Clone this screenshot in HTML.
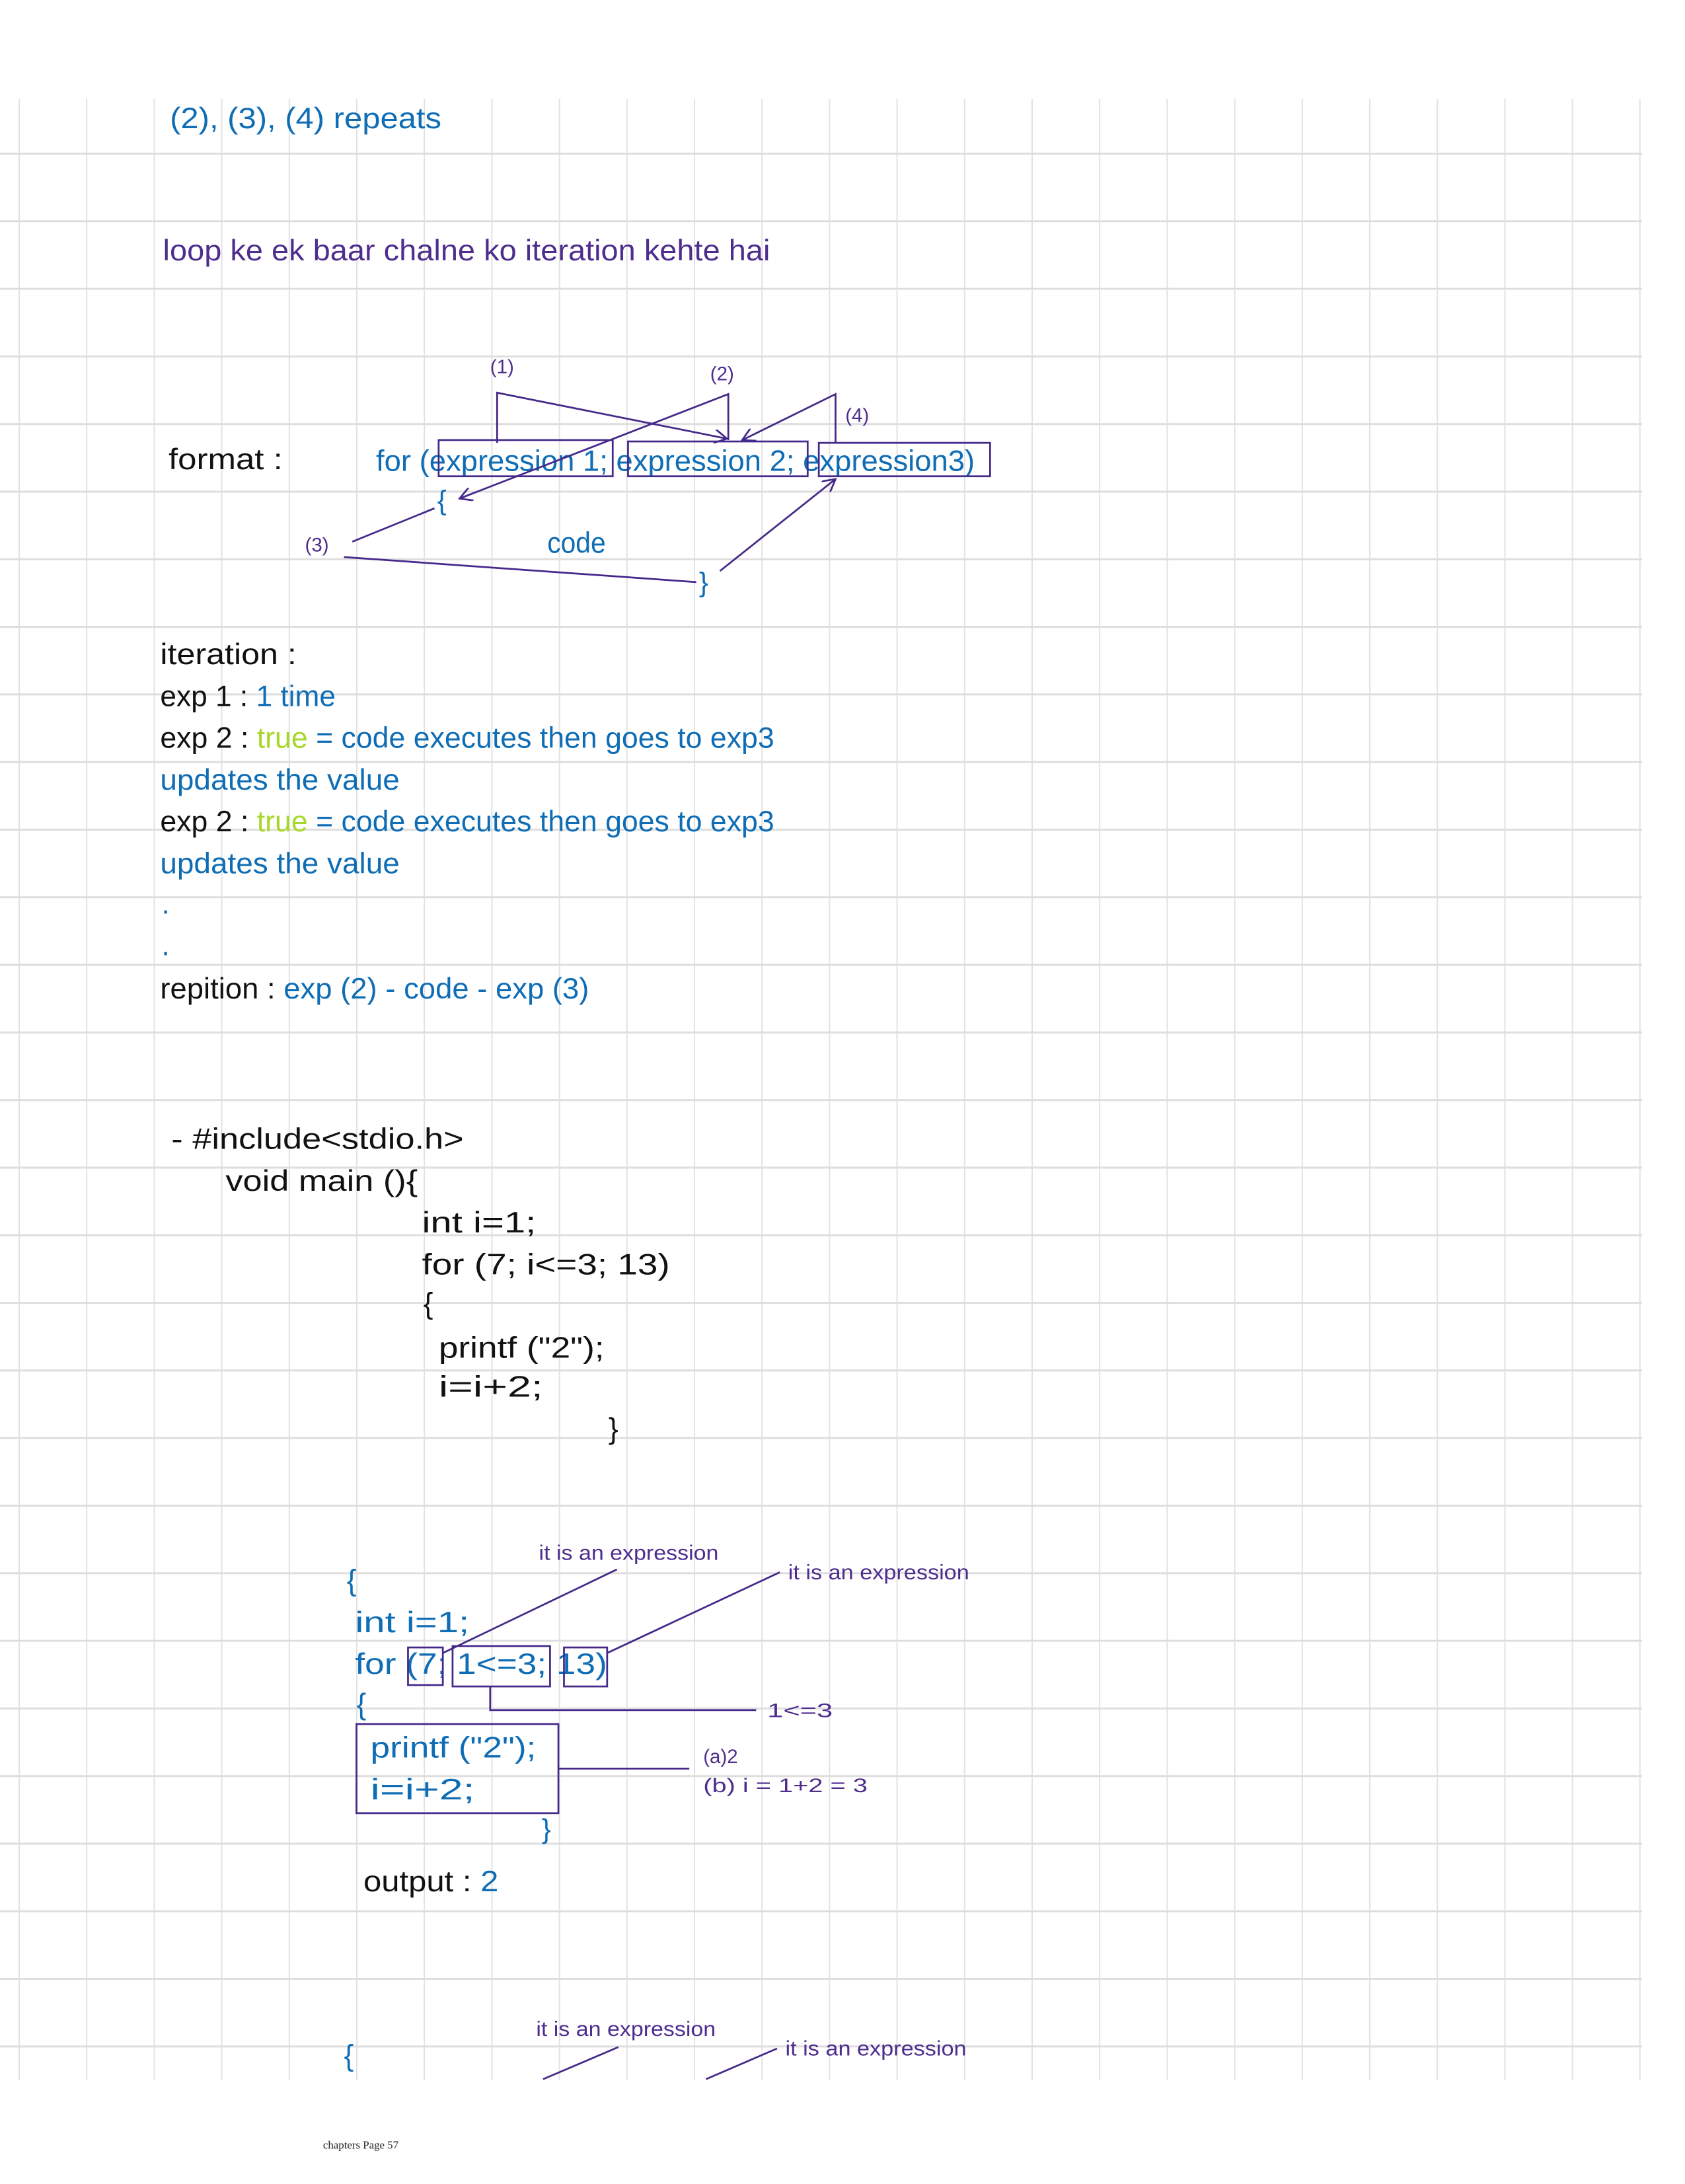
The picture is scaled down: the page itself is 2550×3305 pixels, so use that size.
<!DOCTYPE html>
<html><head><meta charset="utf-8"><style>
html,body{margin:0;padding:0;background:#fff}
svg{display:block}
text{font-family:"Liberation Sans",sans-serif}
.b{fill:#0f6db5}.p{fill:#4e2d8e}.k{fill:#111}.g{fill:#a6d82a}
.l{stroke:#45298a;stroke-width:1.3;fill:none}
</style></head><body>
<svg width="2550" height="3305" viewBox="0 0 2550 3305" xmlns="http://www.w3.org/2000/svg">
<defs>
<pattern id="gv" x="28" y="0" width="102.2" height="10" patternUnits="userSpaceOnUse"><rect x="0" y="0" width="2" height="10" fill="#e2e2e2"/></pattern>
<pattern id="gh" x="0" y="231" width="10" height="102.3" patternUnits="userSpaceOnUse"><rect x="0" y="0" width="10" height="3" fill="#dedede"/></pattern>
<marker id="a" markerWidth="10" markerHeight="10" refX="9" refY="5" orient="auto" markerUnits="userSpaceOnUse"><path d="M0,0 L9,5 L0,10" fill="none" stroke="#45298a" stroke-width="1.3"/></marker>
</defs>
<rect x="0" y="150" width="2485" height="2998" fill="url(#gv)"/>
<rect x="0" y="150" width="2485" height="2998" fill="url(#gh)"/>
<g transform="scale(2.1074)">
<text x="122" y="92" font-size="21" class="b" textLength="195" lengthAdjust="spacingAndGlyphs">(2), (3), (4) repeats</text>
<text x="117" y="187" font-size="21" class="p" textLength="436" lengthAdjust="spacingAndGlyphs">loop ke ek baar chalne ko iteration kehte hai</text>

<text x="121" y="337" font-size="21" class="k" textLength="82" lengthAdjust="spacingAndGlyphs">format :</text>
<text x="270" y="338" font-size="21" class="b" textLength="430" lengthAdjust="spacingAndGlyphs">for (expression 1; expression 2; expression3)</text>
<rect x="315" y="316" width="125" height="26" class="l"/>
<rect x="451" y="317" width="129" height="25" class="l"/>
<rect x="588" y="318" width="123" height="24" class="l"/>
<text x="352" y="268" font-size="14" class="p">(1)</text>
<text x="510" y="273" font-size="14" class="p">(2)</text>
<text x="607" y="303" font-size="14" class="p">(4)</text>
<text x="219" y="396" font-size="14" class="p">(3)</text>
<path class="l" d="M357,318 V282 L522,315" marker-end="url(#a)"/>
<path class="l" d="M523,316 V283 L330,358" marker-end="url(#a)"/>
<path class="l" d="M600,318 V283 L533,316" marker-end="url(#a)"/>
<text x="314" y="366" font-size="20" class="b">{</text>
<path class="l" d="M253,389 L312,365"/>
<text x="393" y="397" font-size="21" class="b" textLength="42" lengthAdjust="spacingAndGlyphs">code</text>
<path class="l" d="M247,400 L500,418"/>
<text x="502" y="425" font-size="20" class="b">}</text>
<path class="l" d="M517,410 L600,344" marker-end="url(#a)"/>

<text x="115" y="477" font-size="21" class="k" textLength="98" lengthAdjust="spacingAndGlyphs">iteration :</text>
<text x="115" y="507" font-size="21"><tspan class="k">exp 1 : </tspan><tspan class="b">1 time</tspan></text>
<text x="115" y="537" font-size="21" textLength="441" lengthAdjust="spacingAndGlyphs"><tspan class="k">exp 2 : </tspan><tspan class="g">true</tspan><tspan class="b"> = code executes then goes to exp3</tspan></text>
<text x="115" y="567" font-size="21" class="b" textLength="172" lengthAdjust="spacingAndGlyphs">updates the value</text>
<text x="115" y="597" font-size="21" textLength="441" lengthAdjust="spacingAndGlyphs"><tspan class="k">exp 2 : </tspan><tspan class="g">true</tspan><tspan class="b"> = code executes then goes to exp3</tspan></text>
<text x="115" y="627" font-size="21" class="b" textLength="172" lengthAdjust="spacingAndGlyphs">updates the value</text>
<text x="116" y="656" font-size="21" class="b">.</text>
<text x="116" y="686" font-size="21" class="b">.</text>
<text x="115" y="717" font-size="21" textLength="308" lengthAdjust="spacingAndGlyphs"><tspan class="k">repition : </tspan><tspan class="b">exp (2) - code - exp (3)</tspan></text>

<g class="k" font-size="21">
<text x="123" y="825" textLength="210" lengthAdjust="spacingAndGlyphs">- #include&lt;stdio.h&gt;</text>
<text x="162" y="855" textLength="138" lengthAdjust="spacingAndGlyphs">void main (){</text>
<text x="303" y="885" textLength="82" lengthAdjust="spacingAndGlyphs">int i=1;</text>
<text x="303" y="915" textLength="178" lengthAdjust="spacingAndGlyphs">for (7; i&lt;=3; 13)</text>
<text x="304" y="943">{</text>
<text x="315" y="975" textLength="119" lengthAdjust="spacingAndGlyphs">printf ("2");</text>
<text x="315" y="1003" textLength="75" lengthAdjust="spacingAndGlyphs">i=i+2;</text>
<text x="437" y="1033">}</text>
</g>

<text x="387" y="1120" font-size="15" class="p" textLength="129" lengthAdjust="spacingAndGlyphs">it is an expression</text>
<text x="566" y="1134" font-size="15" class="p" textLength="130" lengthAdjust="spacingAndGlyphs">it is an expression</text>
<text x="249" y="1142" font-size="21" class="b">{</text>
<text x="255" y="1172" font-size="21" class="b" textLength="82" lengthAdjust="spacingAndGlyphs">int i=1;</text>
<text x="255" y="1202" font-size="21" class="b" textLength="181" lengthAdjust="spacingAndGlyphs">for (7; 1&lt;=3; 13)</text>
<rect x="293" y="1183" width="25" height="27" class="l"/>
<rect x="325" y="1182" width="70" height="29" class="l"/>
<rect x="405" y="1183" width="31" height="28" class="l"/>
<path class="l" d="M318,1187 L443,1127"/>
<path class="l" d="M436,1187 L560,1129"/>
<path class="l" d="M352,1211 V1228 H543"/>
<text x="551" y="1233" font-size="14" class="p" textLength="47" lengthAdjust="spacingAndGlyphs">1&lt;=3</text>
<text x="256" y="1231" font-size="21" class="b">{</text>
<rect x="256" y="1238" width="145" height="64" class="l"/>
<text x="266" y="1262" font-size="21" class="b" textLength="119" lengthAdjust="spacingAndGlyphs">printf ("2");</text>
<text x="266" y="1292" font-size="21" class="b" textLength="75" lengthAdjust="spacingAndGlyphs">i=i+2;</text>
<path class="l" d="M401,1270 H495"/>
<text x="505" y="1266" font-size="14" class="p">(a)2</text>
<text x="505" y="1287" font-size="14" class="p" textLength="118" lengthAdjust="spacingAndGlyphs">(b) i = 1+2 = 3</text>
<text x="389" y="1320" font-size="20" class="b">}</text>
<text x="261" y="1358" font-size="21" textLength="97" lengthAdjust="spacingAndGlyphs"><tspan class="k">output : </tspan><tspan class="b">2</tspan></text>

<text x="385" y="1462" font-size="15" class="p" textLength="129" lengthAdjust="spacingAndGlyphs">it is an expression</text>
<text x="564" y="1476" font-size="15" class="p" textLength="130" lengthAdjust="spacingAndGlyphs">it is an expression</text>
<text x="247" y="1483" font-size="21" class="b">{</text>
<path class="l" d="M390,1493 L444,1470"/>
<path class="l" d="M507,1493 L558,1471"/>

<text x="232" y="1543" font-size="8" fill="#222" style="font-family:'Liberation Serif',serif">chapters Page 57</text>
</g>
</svg>
</body></html>
